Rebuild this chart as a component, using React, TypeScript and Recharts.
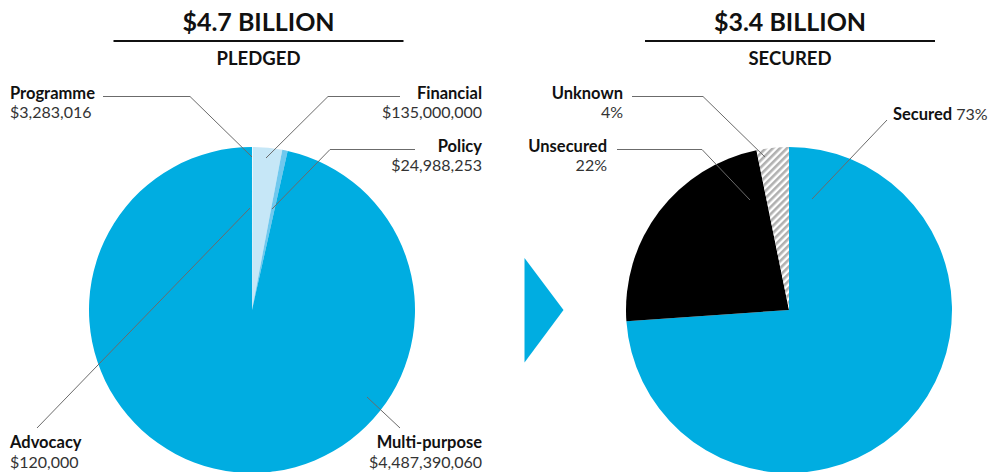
import { PieChart, Pie, Cell } from "recharts"

// pledged funding, by type
const pledgedNames = ["Programme", "Financial", "Policy", "Multi-purpose", "Advocacy"]
const pledgedValues = [3283016, 135000000, 24988253, 4487390060, 120000]
const pledgedLabels = ["$3,283,016", "$135,000,000", "$24,988,253", "$4,487,390,060", "$120,000"]

// share of the pledged total that is secured
const securedNames = ["Secured", "Unsecured", "Unknown"]
const securedValues = [73.9, 22.9, 3.2]
const securedLabels = ["73%", "22%", "4%"]

const pledgedColors = ["#ffffff", "#c6e7f7", "#6fc8ee", "#00ade1", "#00ade1"]
const securedColors = ["#00ade1", "#000000", "url(#hatch)"]

const pledgedData = pledgedNames.map((name, i) => ({ name, value: pledgedValues[i] }))
const securedData = securedNames.map((name, i) => ({ name, value: securedValues[i] }))

const W = 988
const H = 472
const FONT = "Lato, 'Noto Sans', sans-serif"
const LINE = "#6b6b6b"

function Label({ x, y, name, value, anchor = "start", gap = 19 }: any) {
  return (
    <g fontFamily={FONT} fill="#111" textAnchor={anchor}>
      <text x={x} y={y} fontSize={16.5} fontWeight={700}>{name}</text>
      <text x={x} y={y + gap} fontSize={16} fill="#333">{value}</text>
    </g>
  )
}

function Heading({ cx, title, sub }: { cx: number; title: string; sub: string }) {
  return (
    <g fontFamily={FONT} textAnchor="middle" fill="#111" fontWeight={700}>
      <text x={cx} y={31} fontSize={25}>{title}</text>
      <line x1={cx - 145} x2={cx + 145} y1={41} y2={41} stroke="#111" strokeWidth={2} />
      <text x={cx} y={65} fontSize={18.5}>{sub}</text>
    </g>
  )
}

export default function App() {
  return (
    <div style={{ position: "absolute", left: 0, top: 0, width: W, height: H, background: "#fff", overflow: "hidden" }}>
      <svg width={0} height={0} style={{ position: "absolute" }}>
        <defs>
          <pattern id="hatch" patternUnits="userSpaceOnUse" width={5} height={5} patternTransform="rotate(45)">
            <rect width={5} height={5} fill="#ffffff" />
            <rect width={2.6} height={5} fill="#b0b0b0" />
          </pattern>
        </defs>
      </svg>
      <PieChart width={W} height={H} margin={{ top: 0, right: 0, bottom: 0, left: 0 }}>
        <Pie
          data={pledgedData}
          dataKey="value"
          nameKey="name"
          cx={252}
          cy={310}
          outerRadius={163}
          startAngle={90}
          endAngle={-270}
          stroke="none"
          isAnimationActive={false}
        >
          {pledgedData.map((d, i) => (
            <Cell key={d.name} fill={pledgedColors[i]} />
          ))}
        </Pie>
        <Pie
          data={securedData}
          dataKey="value"
          nameKey="name"
          cx={789}
          cy={310}
          outerRadius={163}
          startAngle={90}
          endAngle={-270}
          stroke="none"
          isAnimationActive={false}
        >
          {securedData.map((d, i) => (
            <Cell key={d.name} fill={securedColors[i]} />
          ))}
        </Pie>
      </PieChart>
      <svg width={W} height={H} style={{ position: "absolute", left: 0, top: 0, pointerEvents: "none" }}>
        <Heading cx={258.5} title="$4.7 BILLION" sub="PLEDGED" />
        <Heading cx={790} title="$3.4 BILLION" sub="SECURED" />

        {/* left pie leader lines */}
        <g stroke={LINE} strokeWidth={1} fill="none">
          <polyline points="103,96.5 190,96.5 252,157" />
          <polyline points="400,96.5 328,96.5 266,158" />
          <polyline points="415,149.5 330,149.5 272,209" />
          <polyline points="37,428 250,208" />
          <polyline points="400,428 367,397" />
        </g>
        <Label x={10} y={99} name={pledgedNames[0]} value={pledgedLabels[0]} />
        <Label x={482} y={99} name={pledgedNames[1]} value={pledgedLabels[1]} anchor="end" />
        <Label x={482} y={152} name={pledgedNames[2]} value={pledgedLabels[2]} anchor="end" />
        <Label x={482} y={448} gap={20} name={pledgedNames[3]} value={pledgedLabels[3]} anchor="end" />
        <Label x={10} y={448} gap={20} name={pledgedNames[4]} value={pledgedLabels[4]} />

        {/* arrow between pies */}
        <polygon points="524.5,258 524.5,362.5 563.5,310" fill="#00ade1" />

        {/* right pie leader lines */}
        <g stroke={LINE} strokeWidth={1} fill="none">
          <polyline points="632,96.5 703,96.5 765,157" />
          <polyline points="617,149.5 702,149.5 750,200" />
          <polyline points="887,120 812,199" />
        </g>
        <Label x={623} y={99} name={securedNames[2]} value={securedLabels[2]} anchor="end" />
        <Label x={607} y={152} name={securedNames[1]} value={securedLabels[1]} anchor="end" />
        <text x={893} y={120} fontFamily={FONT} fill="#111">
          <tspan fontSize={16.5} fontWeight={700}>{securedNames[0]}</tspan>
          <tspan fontSize={16} fill="#333"> {securedLabels[0]}</tspan>
        </text>
      </svg>
    </div>
  )
}
